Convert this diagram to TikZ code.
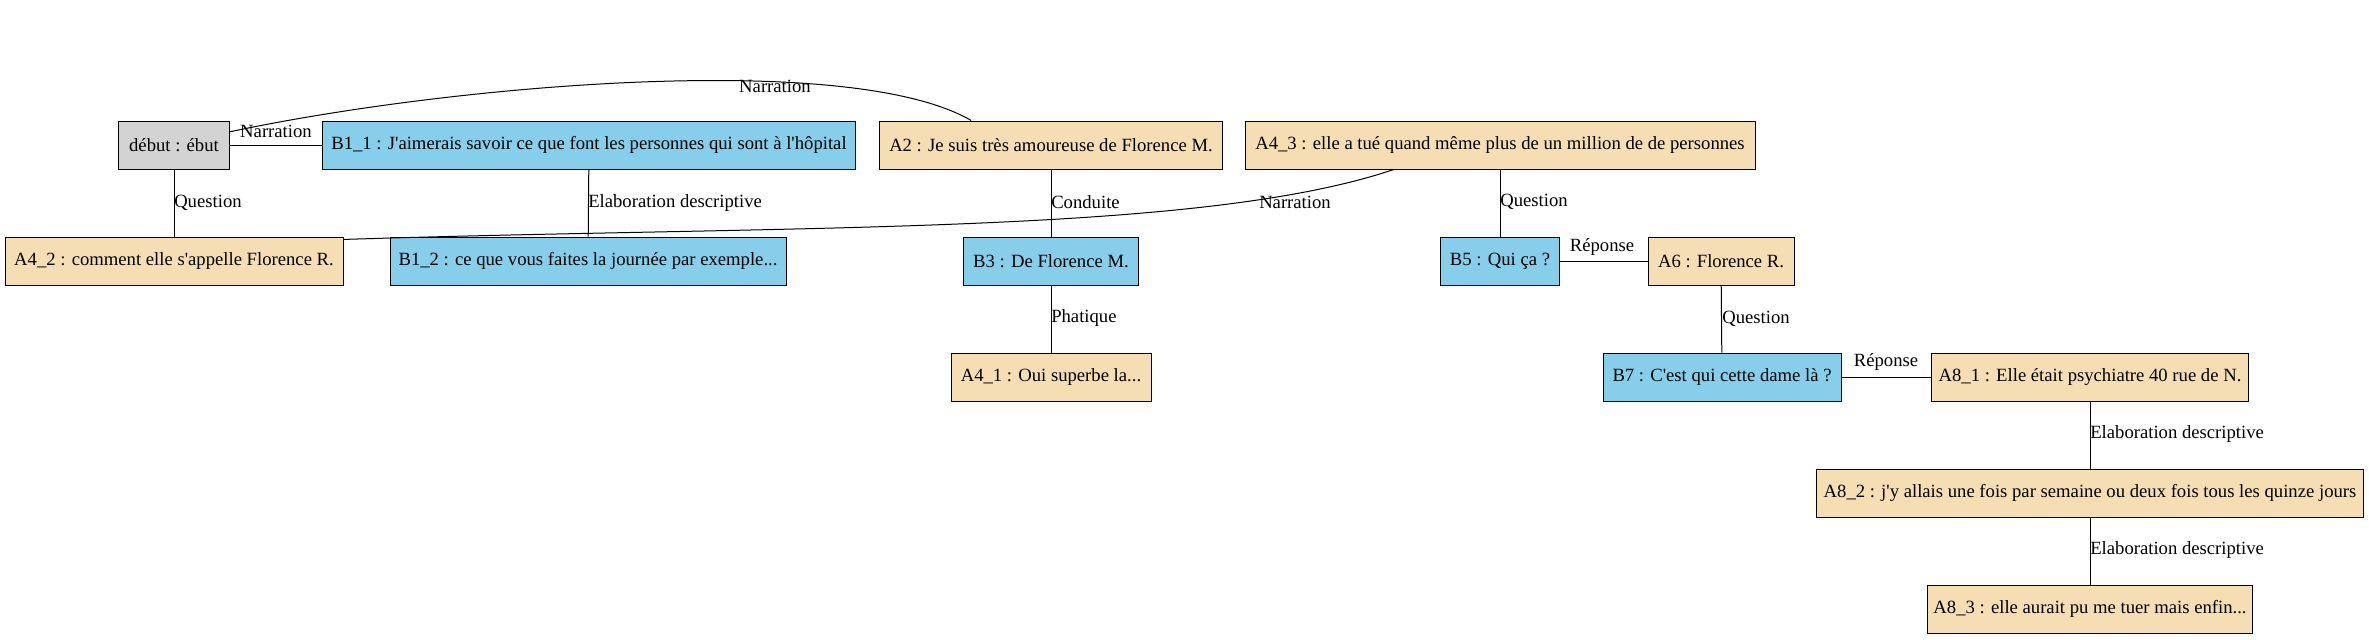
\documentclass[tikz,border=0pt]{standalone}
\usepackage{fontspec}
\setmainfont{Liberation Serif}[Ligatures=TeXOff]
\usetikzlibrary{calc}
\definecolor{wheatc}{HTML}{F5DEB3}
\definecolor{skyc}{HTML}{87CEEB}
\definecolor{greyc}{HTML}{D3D3D3}
\tikzset{
  box/.style={draw=black, line width=0.75pt, minimum height=36pt, inner xsep=1pt, inner ysep=0pt, font=\fontsize{14pt}{16pt}\selectfont},
  abox/.style={box, fill=wheatc},
  bbox/.style={box, fill=skyc},
  gbox/.style={box, fill=greyc},
  edge/.style={draw=black, line width=0.75pt},
  elab/.style={font=\fontsize{14pt}{16pt}\selectfont, inner sep=0pt},
}
\begin{document}
\begin{tikzpicture}[x=0.75pt,y=-0.75pt]
\useasboundingbox (0,0) rectangle (2369,639);
% nodes
\node[gbox, minimum width=83.25pt]  (debut) at (174,145) {début : ébut};
\node[bbox, minimum width=399.75pt] (B11)   at (589,145) {B1\_1 : J'aimerais savoir ce que font les personnes qui sont à l'hôpital};
\node[abox, minimum width=257.25pt] (A2)    at (1051,145) {A2 : Je suis très amoureuse de Florence M.};
\node[abox, minimum width=382.5pt]  (A43)   at (1500,145) {A4\_3 : elle a tué quand même plus de un million de de personnes};
\node[abox, minimum width=253.5pt]  (A42)   at (174,261) {A4\_2 : comment elle s'appelle Florence R.};
\node[bbox, minimum width=297pt]    (B12)   at (588,261) {B1\_2 : ce que vous faites la journée par exemple...};
\node[bbox, minimum width=131.25pt] (B3)    at (1051,261) {B3 : De Florence M.};
\node[bbox, minimum width=89.25pt]  (B5)    at (1500,261) {B5 : Qui ça ?};
\node[abox, minimum width=109.5pt]  (A6)    at (1721,261) {A6 : Florence R.};
\node[abox, minimum width=150pt]    (A41)   at (1051,377) {A4\_1 : Oui superbe la...};
\node[bbox, minimum width=178.5pt]  (B7)    at (1722,377) {B7 : C'est qui cette dame là ?};
\node[abox, minimum width=237.75pt] (A81)   at (2090,377) {A8\_1 : Elle était psychiatre 40 rue de N.};
\node[abox, minimum width=410.25pt] (A82)   at (2090,493) {A8\_2 : j'y allais une fois par semaine ou deux fois tous les quinze jours};
\node[abox, minimum width=243.75pt] (A83)   at (2090,609) {A8\_3 : elle aurait pu me tuer mais enfin...};
% straight edges
\draw[edge] (debut) -- (B11);
\draw[edge] (debut) -- (A42);
\draw[edge] (B11) -- (B12);
\draw[edge] (A2) -- (B3);
\draw[edge] (B3) -- (A41);
\draw[edge] (A43) -- (B5);
\draw[edge] (B5) -- (A6);
\draw[edge] (A6) -- (B7);
\draw[edge] (B7) -- (A81);
\draw[edge] (A81) -- (A82);
\draw[edge] (A82) -- (A83);
% curved edges
\draw[edge] ($(debut.north east)!0.23!(debut.south east)$) .. controls (450,85) and (850,50) .. ($(A2.north west)!0.268!(A2.north east)$);
\draw[edge] ($(A43.south west)!0.292!(A43.south east)$) .. controls (1200,235) and (800,225) .. ($(A42.north east)!0.06!(A42.south east)$);
% labels
\node[elab] (l1) at (276,131) {Narration};
\node[elab] (l2) at (775,86) {Narration};
\node[elab] (l3) at (1295,202) {Narration};
\node[elab, anchor=west] (l4) at (174,203) {Question};
\node[elab, anchor=west] (l5) at (588,203) {Elaboration descriptive};
\node[elab, anchor=west] (l6) at (1051,202) {Conduite};
\node[elab, anchor=west] (l7) at (1051,318) {Phatique};
\node[elab, anchor=west] (l8) at (1500,202) {Question};
\node[elab] (l9) at (1602,247) {Réponse};
\node[elab, anchor=west] (l10) at (1722,319) {Question};
\node[elab] (l11) at (1886,362) {Réponse};
\node[elab, anchor=west] (l12) at (2090,434) {Elaboration descriptive};
\node[elab, anchor=west] (l13) at (2090,550) {Elaboration descriptive};
\end{tikzpicture}
\end{document}
